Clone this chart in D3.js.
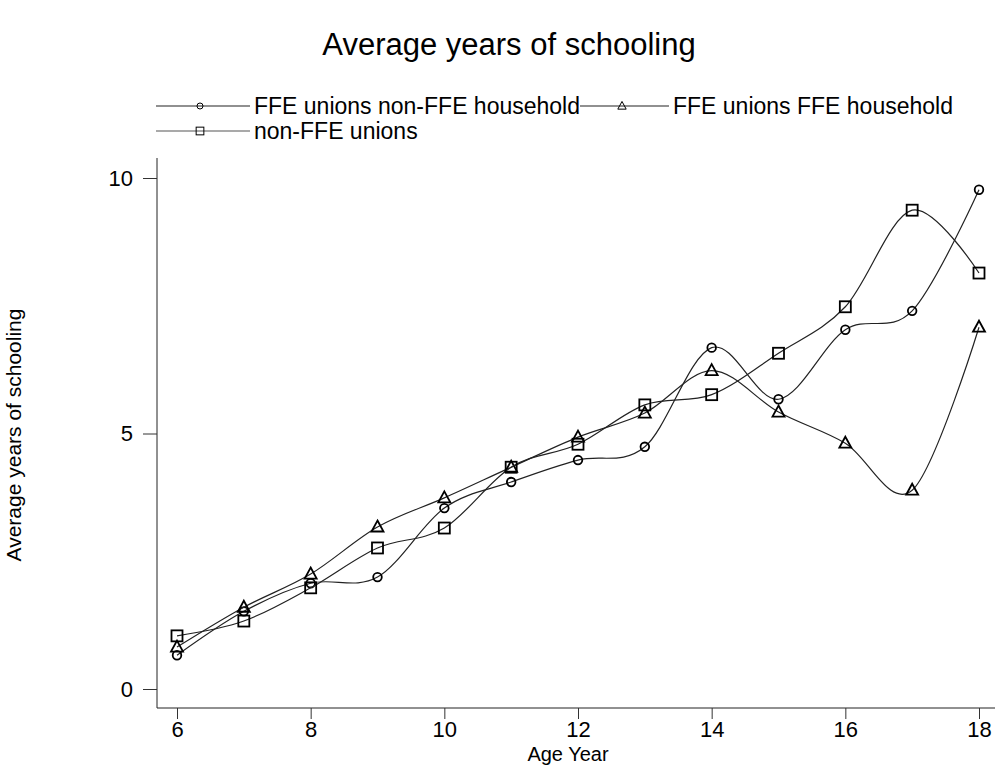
<!DOCTYPE html>
<html>
<head>
<meta charset="utf-8">
<script src="https://cdn.jsdelivr.net/npm/d3@7"></script>
<style>
  body { margin: 0; background: #fff; }
  svg { font-family: "Liberation Sans", Arial, sans-serif; }
</style>
</head>
<body>
<svg id="chart"></svg>
<script>
// data
let ages = [6, 7, 8, 9, 10, 11, 12, 13, 14, 15, 16, 17, 18]
let nonFfeHousehold = [0.66, 1.52, 2.07, 2.19, 3.54, 4.05, 4.48, 4.74, 6.68, 5.67, 7.03, 7.40, 9.77]
let ffeHousehold = [0.82, 1.60, 2.25, 3.17, 3.74, 4.34, 4.93, 5.40, 6.23, 5.42, 4.81, 3.89, 7.08]
let nonFfeUnions = [1.04, 1.33, 1.98, 2.76, 3.15, 4.34, 4.79, 5.56, 5.76, 6.57, 7.48, 9.37, 8.14]
let seriesNames = ['FFE unions non-FFE household', 'FFE unions FFE household', 'non-FFE unions']
let seriesShapes = ['circle', 'triangle', 'square']
let xTicks = [6, 8, 10, 12, 14, 16, 18]
let yTicks = [0, 5, 10]

let width = 1000
let height = 776

let svg = d3.select('#chart')
    .attr('width', width)
    .attr('height', height)

let xScale = d3.scaleLinear().domain([6, 18]).range([177, 979])
let yScale = d3.scaleLinear().domain([0, 10]).range([689, 178])

let series = [nonFfeHousehold, ffeHousehold, nonFfeUnions].map((vals, i) => ({
    name: seriesNames[i],
    shape: seriesShapes[i],
    points: vals.map((v, j) => ({x: ages[j], y: v}))
}))

let drawMarker = (g, shape, cx, cy, k, sw) => {
    if (shape === 'circle') {
        g.append('circle').attr('cx', cx).attr('cy', cy).attr('r', 4.3 * k)
            .attr('fill', 'none').attr('stroke', '#000').attr('stroke-width', sw)
    } else if (shape === 'triangle') {
        g.append('path')
            .attr('d', `M${cx},${cy - 6.5 * k}L${cx + 6 * k},${cy + 4.5 * k}L${cx - 6 * k},${cy + 4.5 * k}Z`)
            .attr('fill', 'none').attr('stroke', '#000').attr('stroke-width', sw)
    } else {
        g.append('rect').attr('x', cx - 5.5 * k).attr('y', cy - 5.5 * k)
            .attr('width', 11 * k).attr('height', 11 * k)
            .attr('fill', 'none').attr('stroke', '#000').attr('stroke-width', sw)
    }
}

// title
svg.append('text')
    .attr('x', 509).attr('y', 55)
    .attr('text-anchor', 'middle')
    .attr('font-size', 31)
    .text('Average years of schooling')

// axes
let xAxis = d3.axisBottom(xScale).tickValues(xTicks).tickSize(11).tickPadding(2).tickFormat(d3.format('d'))
let yAxis = d3.axisLeft(yScale).tickValues(yTicks).tickSize(14).tickPadding(10).tickFormat(d3.format('d'))

let gx = svg.append('g')
    .attr('transform', 'translate(0,708)')
    .call(xAxis)
gx.select('.domain').attr('d', 'M157,0H995')

let gy = svg.append('g')
    .attr('transform', 'translate(157,0)')
    .call(yAxis)
gy.select('.domain').attr('d', 'M0,158V708')

svg.selectAll('.tick text').attr('font-size', 22).attr('font-family', '"Liberation Sans", Arial, sans-serif')
svg.selectAll('.tick line').attr('stroke', '#333')
svg.selectAll('.domain').attr('stroke', '#222')

svg.append('text')
    .attr('x', 568).attr('y', 761)
    .attr('text-anchor', 'middle')
    .attr('font-size', 20)
    .text('Age Year')

svg.append('text')
    .attr('transform', 'translate(21,435) rotate(-90)')
    .attr('text-anchor', 'middle')
    .attr('font-size', 21)
    .text('Average years of schooling')

// lines
let line = d3.line()
    .x(d => xScale(d.x))
    .y(d => yScale(d.y))
    .curve(d3.curveCatmullRom.alpha(0))

series.forEach(s => {
    svg.append('path')
        .datum(s.points)
        .attr('d', line)
        .attr('fill', 'none')
        .attr('stroke', '#222')
        .attr('stroke-width', 1.2)
    let g = svg.append('g')
    s.points.forEach(p => drawMarker(g, s.shape, xScale(p.x), yScale(p.y), 1, 1.8))
})

// legend
let legendPos = [
    {lx: 156, len: 94, y: 106},
    {lx: 580, len: 89, y: 106},
    {lx: 156, len: 94, y: 131}
]
series.forEach((s, i) => {
    let p = legendPos[i]
    let g = svg.append('g')
    g.append('line')
        .attr('x1', p.lx).attr('x2', p.lx + p.len)
        .attr('y1', p.y).attr('y2', p.y)
        .attr('stroke', i === 2 ? '#555' : '#222').attr('stroke-width', 1.2)
    let mx = i === 1 ? 622 : p.lx + 44
    drawMarker(g, s.shape, mx, p.y, 0.7, 1)
    g.append('text')
        .attr('x', p.lx + p.len + 4)
        .attr('y', p.y + 8)
        .attr('font-size', 23)
        .text(s.name)
})
</script>
</body>
</html>
